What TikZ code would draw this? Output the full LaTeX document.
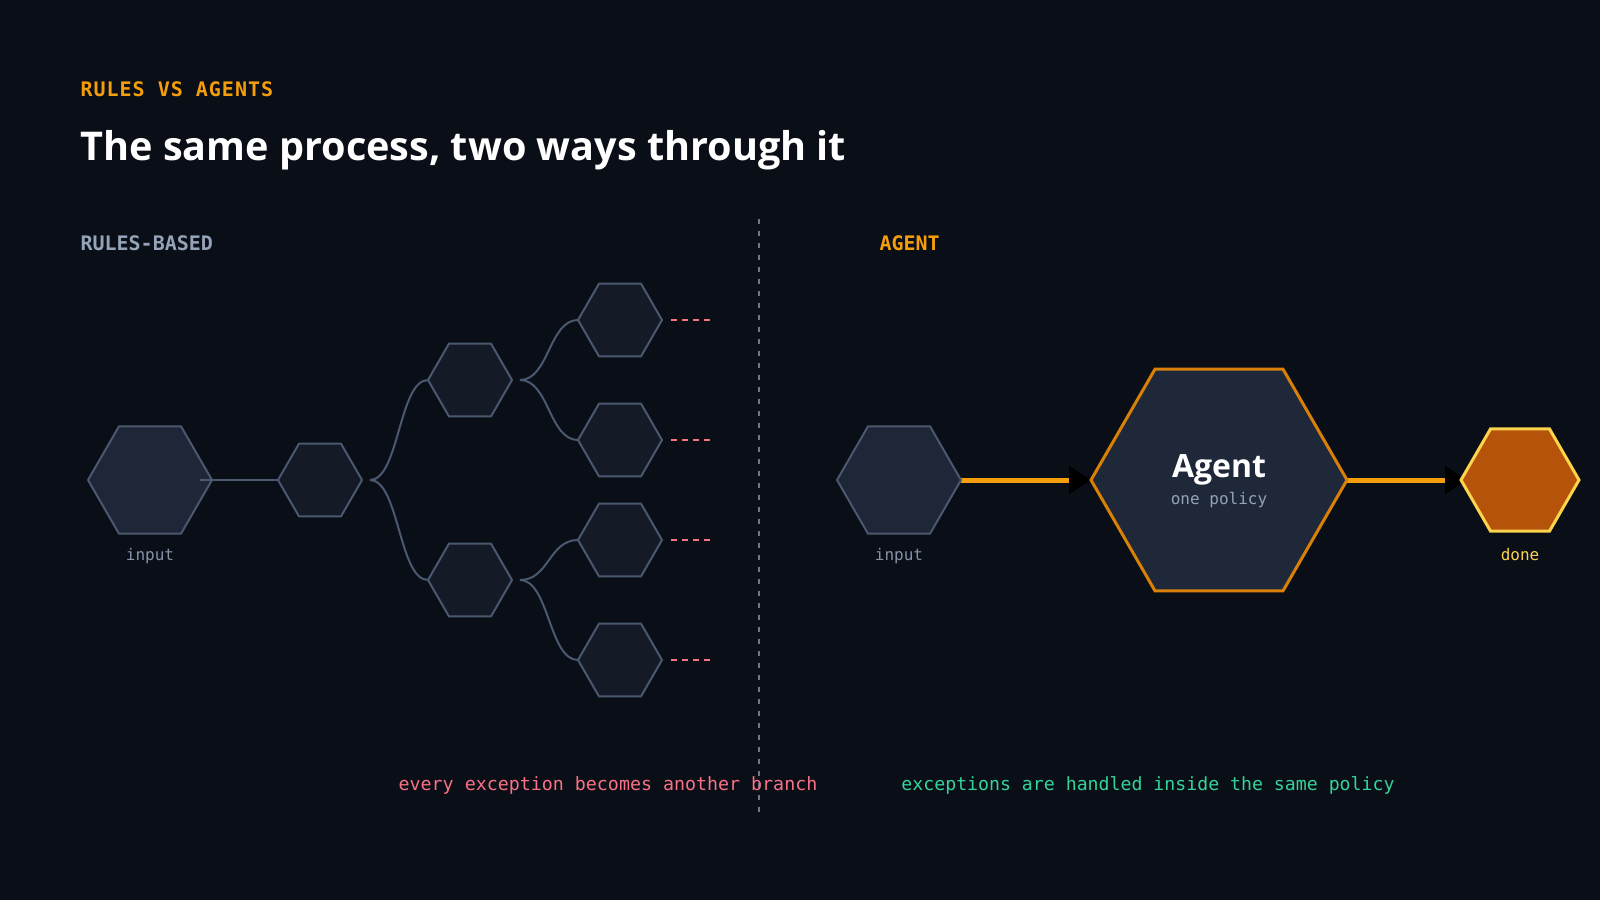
\documentclass[tikz,border=0pt]{standalone}
\usepackage{fontspec}
\setmainfont{Open Sans}
\setmonofont{DejaVu Sans Mono}
\newfontfamily\kickerfont[LetterSpace=5]{DejaVu Sans Mono}
\usetikzlibrary{shapes.geometric,arrows.meta}
\pgfdeclarelayer{under}
\pgfsetlayers{under,main}

\definecolor{bg}{HTML}{0A0E17}
\definecolor{slate}{HTML}{4A5870}
\definecolor{hexfill}{HTML}{1E2638}
\definecolor{hexdark}{HTML}{141B27}
\definecolor{agentfill}{HTML}{1F2838}
\definecolor{amber}{HTML}{F59E0B}
\definecolor{amberdark}{HTML}{D98006}
\definecolor{rust}{HTML}{B45309}
\definecolor{gold}{HTML}{FCD34D}
\definecolor{rose}{HTML}{F87185}
\definecolor{mint}{HTML}{34D399}
\definecolor{muted}{HTML}{94A3B8}
\definecolor{dim}{HTML}{8593A8}

\tikzset{
    hexa/.style={regular polygon,regular polygon sides=6,
        inner sep=0pt,outer sep=0pt,draw=slate,line width=2pt,fill=hexdark,minimum size=#1},
    branch/.style={draw=slate,line width=2pt},
    stub/.style={draw=rose,line width=2pt,dash pattern=on 6pt off 5pt},
    flow/.style={draw=amber,line width=5pt,-{Triangle[length=22pt,width=27pt,black]}},
    mono/.style={font=\fontsize{#1}{#1}\selectfont\ttfamily},
    monob/.style={font=\fontsize{#1}{#1}\selectfont\ttfamily\bfseries},
}

\begin{document}
\begin{tikzpicture}[x=1pt,y=-1pt]
    \begin{pgfonlayer}{under}
        \fill[bg](0,0)rectangle(1600,900);
    \end{pgfonlayer}

    \node[anchor=base west,text=amber,font=\fontsize{20}{24}\selectfont\kickerfont\bfseries](kicker)at(77,96){RULES VS AGENTS};
    \node[anchor=base west,text=white,font=\fontsize{39.6}{48}\selectfont\bfseries](title)at(77,160){The same process, two ways through it};
    \node[anchor=base west,text=muted,monob=20](rulesh)at(77,250){RULES-BASED};
    \node[anchor=base west,text=amber,monob=20](agenth)at(876,250){AGENT};

    \draw[slate!80,line width=1.5pt,dash pattern=on 5pt off 7pt](759,219)--(759,816);

    % rules-based tree
    \node[hexa=124pt,fill=hexfill](in)at(150,480){};
    \node[hexa=84pt](l1)at(320,480){};
    \node[hexa=84pt](l2a)at(470,380){};
    \node[hexa=84pt](l2b)at(470,580){};
    \node[hexa=84pt](l3a)at(620,320){};
    \node[hexa=84pt](l3b)at(620,440){};
    \node[hexa=84pt](l3c)at(620,540){};
    \node[hexa=84pt](l3d)at(620,660){};
    \node[anchor=base,text=dim,mono=16](inlabel)at(150,560){input};

    \draw[branch]([xshift=50pt]in.center)--(l1.west);
    \draw[branch]([xshift=50pt]l1.center)..controls +(29,0) and +(-29,0)..(l2a.west);
    \draw[branch]([xshift=50pt]l1.center)..controls +(29,0) and +(-29,0)..(l2b.west);
    \draw[branch]([xshift=50pt]l2a.center)..controls +(29,0) and +(-29,0)..(l3a.west);
    \draw[branch]([xshift=50pt]l2a.center)..controls +(29,0) and +(-29,0)..(l3b.west);
    \draw[branch]([xshift=50pt]l2b.center)..controls +(29,0) and +(-29,0)..(l3c.west);
    \draw[branch]([xshift=50pt]l2b.center)..controls +(29,0) and +(-29,0)..(l3d.west);
    \foreach \leaf in {l3a,l3b,l3c,l3d}
        \draw[stub]([xshift=9pt]\leaf.east)--++(40,0);

    \node[anchor=base,text=rose,mono=18.3](rulesnote)at(608,790){every exception becomes another branch};

    % agent
    \node[hexa=124pt,fill=hexfill](rin)at(899,480){};
    \node[hexa=256pt,fill=agentfill,draw=amberdark,line width=3pt](agent)at(1219,480){};
    \node[hexa=118pt,fill=rust,draw=gold,line width=3pt](done)at(1520,480){};
    \node[anchor=base,text=white,font=\fontsize{32}{36}\selectfont\bfseries](agentname)at(1219,477){Agent};
    \node[anchor=base,text=muted,mono=16](policy)at(1219,504){one policy};
    \node[anchor=base,text=dim,mono=16](rinlabel)at(899,560){input};
    \node[anchor=base,text=gold,mono=16](donelabel)at(1520,560){done};

    \begin{pgfonlayer}{under}
        \draw[flow](rin.east)--(agent.west);
        \draw[flow](agent.east)--([xshift=6pt]done.west);
    \end{pgfonlayer}

    \node[anchor=base,text=mint,mono=18.2](agentnote)at(1148,790){exceptions are handled inside the same policy};
\end{tikzpicture}
\end{document}
